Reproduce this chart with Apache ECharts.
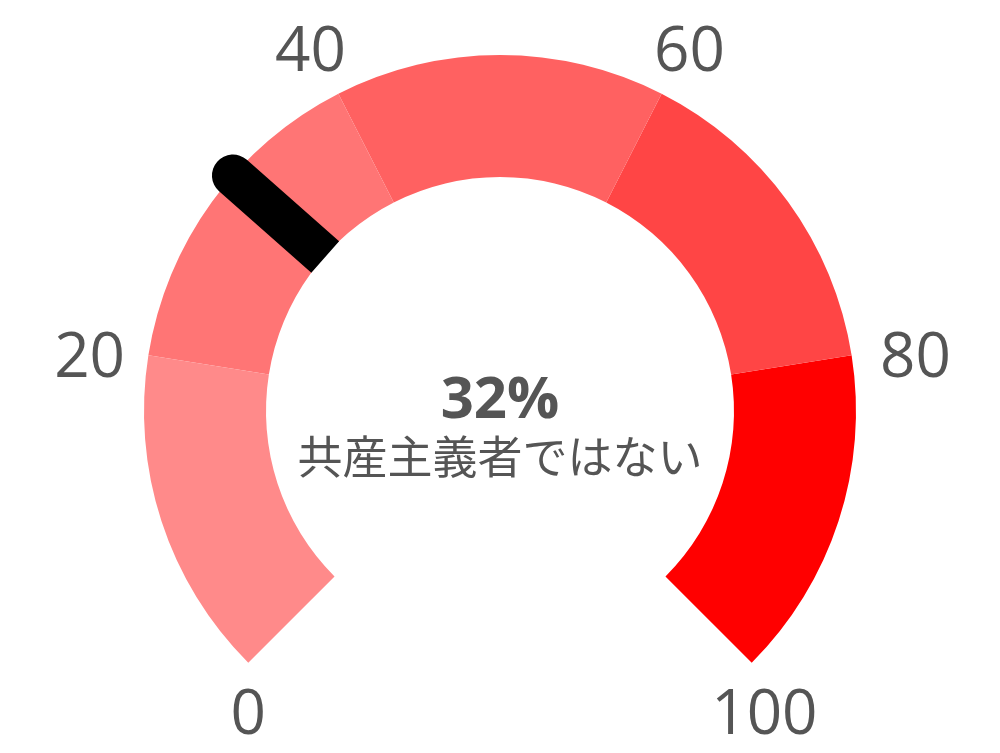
<!DOCTYPE html>
<html>
<head>
<meta charset="utf-8">
<script src="https://cdn.jsdelivr.net/npm/echarts@6/dist/echarts.min.js"></script>
<style>
html,body{margin:0;padding:0;background:#fff;}
#c{width:1000px;height:753px;}
</style>
</head>
<body>
<div id="c"></div>
<script>
// ---- data ----
const gaugeValue = 32;
const gaugeName = '共産主義者ではない';
const bandStops = [0.2, 0.4, 0.6, 0.8, 1.0];
const bandColors = ['#FF8A8A', '#FF7575', '#FF6161', '#FF4545', '#FF0000'];
const tickLabels = [0, 20, 40, 60, 80, 100];

// ---- styling: per-label nudges (padding) so labels sit like the reference ----
const labelPad = {
  0:   [0, 0, 96, 84],
  20:  [53, 0, 0, 48],
  40:  [57, 0, 0, 2],
  60:  [57, 2, 0, 0],
  80:  [53, 43, 0, 0],
  100: [0, 36, 96, 0]
};
const rich = {};
tickLabels.forEach(function (t) {
  rich['l' + t] = { padding: labelPad[t], fontSize: 62, fontFamily: 'Open Sans', color: '#555' };
});

const chart = echarts.init(document.getElementById('c'));
chart.setOption({
  animation: false,
  series: [{
    type: 'gauge',
    center: [500, 411],
    radius: 356,
    startAngle: 225,
    endAngle: -45,
    min: tickLabels[0],
    max: tickLabels[tickLabels.length - 1],
    splitNumber: tickLabels.length - 1,
    axisLine: {
      lineStyle: {
        width: 122,
        color: bandStops.map(function (s, i) { return [s, bandColors[i]]; })
      }
    },
    splitLine: { show: false, length: 0, distance: 0 },
    axisTick: { show: false },
    axisLabel: {
      show: true,
      distance: -144,
      fontSize: 62,
      fontFamily: 'Open Sans',
      color: '#555',
      formatter: function (v) { return '{l' + Math.round(v) + '|' + Math.round(v) + '}'; },
      rich: rich
    },
    pointer: {
      show: true,
      icon: 'path://M0 21A21 21 0 0 1 42 21L42 144L0 144Z',
      width: 42,
      length: 144,
      offsetCenter: [0, -233],
      keepAspect: false,
      itemStyle: { color: '#000000' }
    },
    anchor: { show: false },
    progress: { show: false },
    title: {
      show: true,
      offsetCenter: [0, 46],
      fontSize: 45,
      color: '#555',
      fontFamily: 'Noto Sans CJK JP'
    },
    detail: {
      show: true,
      offsetCenter: [0, -10],
      formatter: '{value}%',
      fontSize: 58,
      fontWeight: 'bold',
      fontFamily: 'Open Sans',
      color: '#555',
      lineHeight: 70,
      width: 240,
      padding: 0
    },
    data: [{ value: gaugeValue, name: gaugeName }]
  }]
});
</script>
</body>
</html>
